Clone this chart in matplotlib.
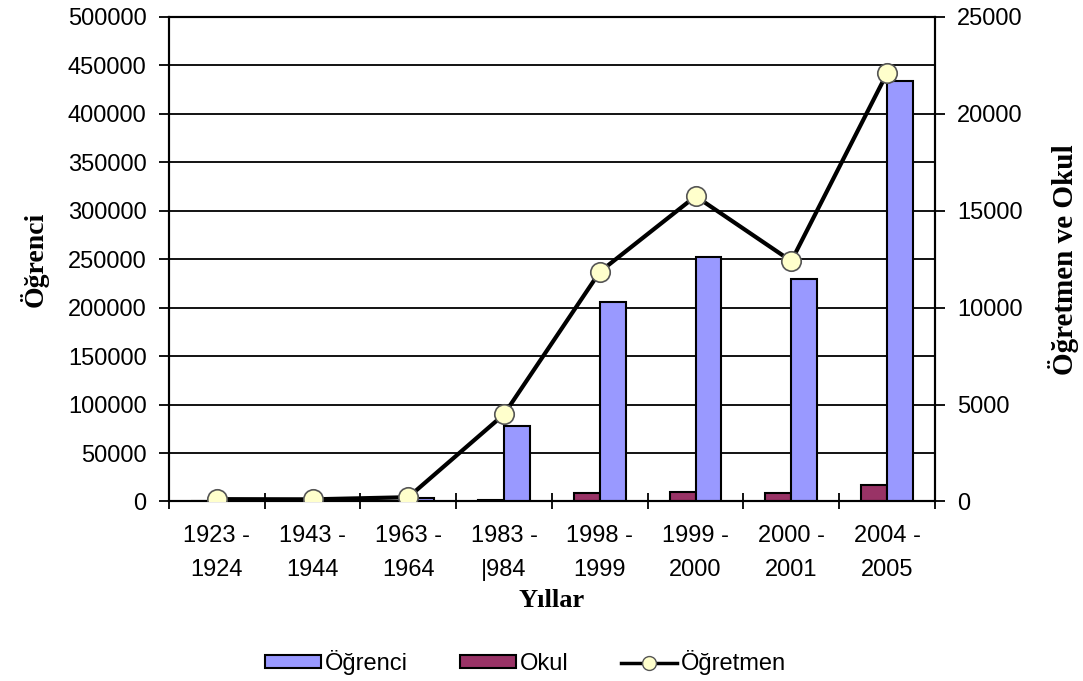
import numpy as np
import matplotlib
matplotlib.use("Agg")
import matplotlib.pyplot as plt
from matplotlib.patches import Patch
from matplotlib.lines import Line2D

# data
years = ["1923 -\n1924", "1943 -\n1944", "1963 -\n1964", "1983 -\n|984",
         "1998 -\n1999", "1999 -\n2000", "2000 -\n2001", "2004 -\n2005"]
ogrenci = [2800, 1500, 3800, 78200, 206000, 252000, 229500, 434000]
okul = [500, 400, 600, 1800, 8600, 10300, 8600, 16500]
ogretmen = [120, 110, 220, 4500, 11850, 15750, 12400, 22100]

blue = "#9999FF"
maroon = "#993366"

plt.rcParams['font.family'] = ['Liberation Sans', 'DejaVu Sans']

fig = plt.figure(figsize=(10.83, 6.81), dpi=100)
ax = fig.add_axes([0.156, 0.2636, 0.7073, 0.7115])

x = np.arange(len(years))
w = 0.27
ax.bar(x - w / 2, okul, width=w, color=maroon, edgecolor="black", linewidth=1.5, zorder=3)
ax.bar(x + w / 2, ogrenci, width=w, color=blue, edgecolor="black", linewidth=1.5, zorder=3)

ax.set_xlim(-0.5, len(years) - 0.5)
ax.set_ylim(0, 500000)
ax.set_yticks(np.arange(0, 500001, 50000))
ax.yaxis.grid(True, color="black", linewidth=1.3, zorder=0)
ax.set_axisbelow(True)

ax.set_xticks(x)
ax.set_xticklabels(years, fontsize=17, linespacing=1.7)
ax.set_xticks(np.arange(-0.5, len(years), 1), minor=True)
ax.tick_params(axis="x", which="major", length=0, pad=17)
ax.tick_params(axis="x", which="minor", direction="inout", length=12, width=1.3)
ax.tick_params(axis="y", direction="out", length=7, width=1.3, labelsize=17, pad=9)

for s in ax.spines.values():
    s.set_linewidth(1.5)

ax.set_ylabel("Öğrenci", family="Liberation Serif", fontweight="bold", fontsize=20, labelpad=14)
ax.set_xlabel("Yıllar", family="Liberation Serif", fontweight="bold", fontsize=19, labelpad=6)

ax2 = ax.twinx()
ax2.plot(x, ogretmen, color="black", linewidth=3, marker="o", markersize=14,
         markerfacecolor="#FFFFCC", markeredgecolor="#555555", markeredgewidth=1.2, zorder=4)
ax2.set_ylim(0, 25000)
ax2.set_yticks(np.arange(0, 25001, 5000))
ax2.tick_params(axis="y", direction="out", length=7, width=1.3, labelsize=17, pad=9)
ax2.set_ylabel("Öğretmen ve Okul", family="Liberation Serif", fontweight="bold",
               fontsize=21, rotation=90, labelpad=18)
for s in ax2.spines.values():
    s.set_linewidth(1.5)

handles = [Patch(facecolor=blue, edgecolor="black", linewidth=1.5),
           Patch(facecolor=maroon, edgecolor="black", linewidth=1.5),
           Line2D([], [], color="black", linewidth=2.5, marker="o", markersize=10,
                  markerfacecolor="#FFFFCC", markeredgecolor="#555555")]
fig.legend(handles, ["Öğrenci", "Okul", "Öğretmen"], loc="center",
           bbox_to_anchor=(0.485, 0.027), ncol=3, frameon=False, fontsize=17,
           handlelength=2.4, handleheight=0.5, handletextpad=0.15, columnspacing=2.2)

fig.savefig("out.png", dpi=100)
